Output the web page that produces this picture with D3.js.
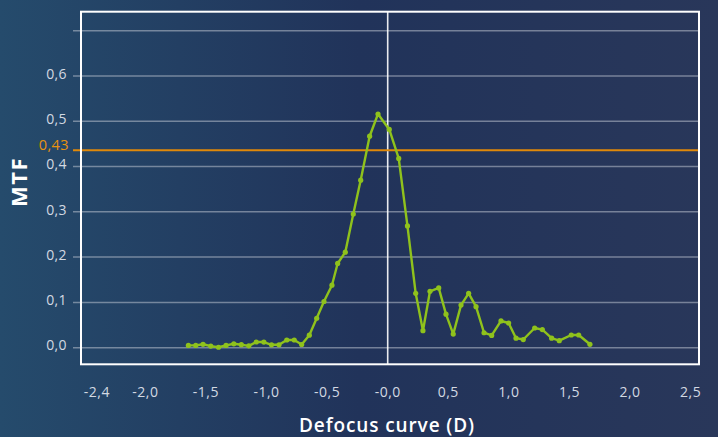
<!DOCTYPE html>
<html>
<head>
<meta charset="utf-8">
<script src="https://cdn.jsdelivr.net/npm/d3@7"></script>
<style>
  html, body { margin: 0; padding: 0; background: #233a5e; }
  svg { display: block; }
  text { font-family: "Open Sans", Lato, sans-serif; }
</style>
</head>
<body>
<svg id="chart" width="718" height="437"></svg>
<script>
// ---- data ----
const defocus = [-1.645, -1.584, -1.524, -1.460, -1.396, -1.334, -1.270, -1.208, -1.146, -1.085,
  -1.022, -0.959, -0.897, -0.833, -0.771, -0.710, -0.647, -0.586, -0.526, -0.460,
  -0.413, -0.350, -0.284, -0.223, -0.149, -0.080, 0.013, 0.091, 0.163, 0.231,
  0.291, 0.349, 0.421, 0.481, 0.541, 0.605, 0.668, 0.729, 0.795, 0.858,
  0.935, 0.998, 1.059, 1.119, 1.213, 1.276, 1.353, 1.416, 1.515, 1.576, 1.669];
const mtf = [0.005, 0.005, 0.0075, 0.0035, 0.001, 0.005, 0.0086, 0.0066, 0.004, 0.0126,
  0.0124, 0.0064, 0.0064, 0.017, 0.017, 0.007, 0.0276, 0.065, 0.102, 0.138,
  0.186, 0.211, 0.295, 0.370, 0.467, 0.516, 0.482, 0.418, 0.269, 0.120,
  0.0375, 0.1245, 0.132, 0.074, 0.030, 0.094, 0.120, 0.0905, 0.033, 0.027,
  0.059, 0.0545, 0.021, 0.018, 0.0435, 0.040, 0.021, 0.0155, 0.028, 0.028, 0.0075];
const xTickValues = [-2.4, -2.0, -1.5, -1.0, -0.5, 0.0, 0.5, 1.0, 1.5, 2.0, 2.5];
const xTickLabels = ["-2,4", "-2,0", "-1,5", "-1,0", "-0,5", "-0,0", "0,5", "1,0", "1,5", "2,0", "2,5"];
const yGridValues = [0.0, 0.1, 0.2, 0.3, 0.4, 0.5, 0.6, 0.7];
const yTickValues = [0.0, 0.1, 0.2, 0.3, 0.4, 0.5, 0.6];
const yTickLabels = ["0,0", "0,1", "0,2", "0,3", "0,4", "0,5", "0,6"];
const thresholdValue = 0.436;
const thresholdLabel = "0,43";
const xTitle = "Defocus curve (D)";
const yTitle = "MTF";

// ---- layout ----
const W = 718, H = 437;
const frame = { left: 81, right: 699, top: 11.7, bottom: 364.3 };

const svg = d3.select("#chart");
const defs = svg.append("defs");
const grad = defs.append("linearGradient").attr("id", "bg").attr("x1", "0").attr("x2", "1").attr("y1", "0").attr("y2", "0");
grad.append("stop").attr("offset", "0%").attr("stop-color", "#254b6c");
grad.append("stop").attr("offset", "50%").attr("stop-color", "#21335a");
grad.append("stop").attr("offset", "100%").attr("stop-color", "#29375a");
svg.append("rect").attr("width", W).attr("height", H).attr("fill", "url(#bg)");

const x = d3.scaleLinear().domain([-2.531, 2.569]).range([frame.left, frame.right]);
const y = d3.scaleLinear().domain([-0.0367, 0.742]).range([frame.bottom, frame.top]);

// grid lines + left ticks
svg.append("g").selectAll("line").data(yGridValues).join("line")
  .attr("x1", frame.left - 8).attr("x2", frame.right)
  .attr("y1", d => y(d)).attr("y2", d => y(d))
  .attr("stroke", "#c8ced8").attr("stroke-opacity", 0.5).attr("stroke-width", 1.5);

// y tick labels
svg.append("g").selectAll("text").data(yTickValues).join("text")
  .attr("x", 67).attr("y", d => y(d) - 1)
  .attr("text-anchor", "end").attr("dominant-baseline", "middle")
  .attr("fill", "#d3d9e2").attr("font-size", 14).attr("letter-spacing", 0.4)
  .text((d, i) => yTickLabels[i]);

// x tick labels
svg.append("g").selectAll("text").data(xTickValues).join("text")
  .attr("x", d => x(d)).attr("y", 393)
  .attr("text-anchor", "middle").attr("dominant-baseline", "middle")
  .attr("fill", "#d3d9e2").attr("font-size", 14).attr("letter-spacing", 0.5)
  .text((d, i) => xTickLabels[i]);

// zero vertical line
svg.append("line")
  .attr("x1", x(0)).attr("x2", x(0)).attr("y1", frame.top).attr("y2", frame.bottom)
  .attr("stroke", "#ffffff").attr("stroke-opacity", 0.9).attr("stroke-width", 1.6);

// threshold line
svg.append("line")
  .attr("x1", frame.left - 8).attr("x2", frame.right)
  .attr("y1", y(thresholdValue)).attr("y2", y(thresholdValue))
  .attr("stroke", "#e0890a").attr("stroke-width", 1.8);
svg.append("text")
  .attr("x", 69).attr("y", y(thresholdValue) - 4)
  .attr("text-anchor", "end").attr("dominant-baseline", "middle")
  .attr("fill", "#e8920f").attr("font-size", 14.5).attr("letter-spacing", 0.4)
  .text(thresholdLabel);

// frame
svg.append("rect")
  .attr("x", frame.left).attr("y", frame.top)
  .attr("width", frame.right - frame.left).attr("height", frame.bottom - frame.top)
  .attr("fill", "none").attr("stroke", "#ffffff").attr("stroke-width", 2);

// series
const pts = defocus.map((d, i) => [d, mtf[i]]);
const line = d3.line().x(d => x(d[0])).y(d => y(d[1]));
svg.append("path").datum(pts)
  .attr("d", line).attr("fill", "none")
  .attr("stroke", "#8fc21c").attr("stroke-width", 2.4).attr("stroke-linejoin", "round");
svg.append("g").selectAll("circle").data(pts).join("circle")
  .attr("cx", d => x(d[0])).attr("cy", d => y(d[1])).attr("r", 2.6)
  .attr("fill", "#8fc21c");

// titles
svg.append("text")
  .attr("x", 387).attr("y", 427)
  .attr("text-anchor", "middle").attr("dominant-baseline", "middle")
  .attr("fill", "#ffffff").attr("font-size", 19).attr("font-weight", 600).attr("letter-spacing", 0.9)
  .text(xTitle);
svg.append("text")
  .attr("transform", "translate(21,182) rotate(-90)")
  .attr("text-anchor", "middle").attr("dominant-baseline", "middle")
  .attr("fill", "#ffffff").attr("font-size", 22).attr("font-weight", 700).attr("letter-spacing", 1.5)
  .text(yTitle);
</script>
</body>
</html>
